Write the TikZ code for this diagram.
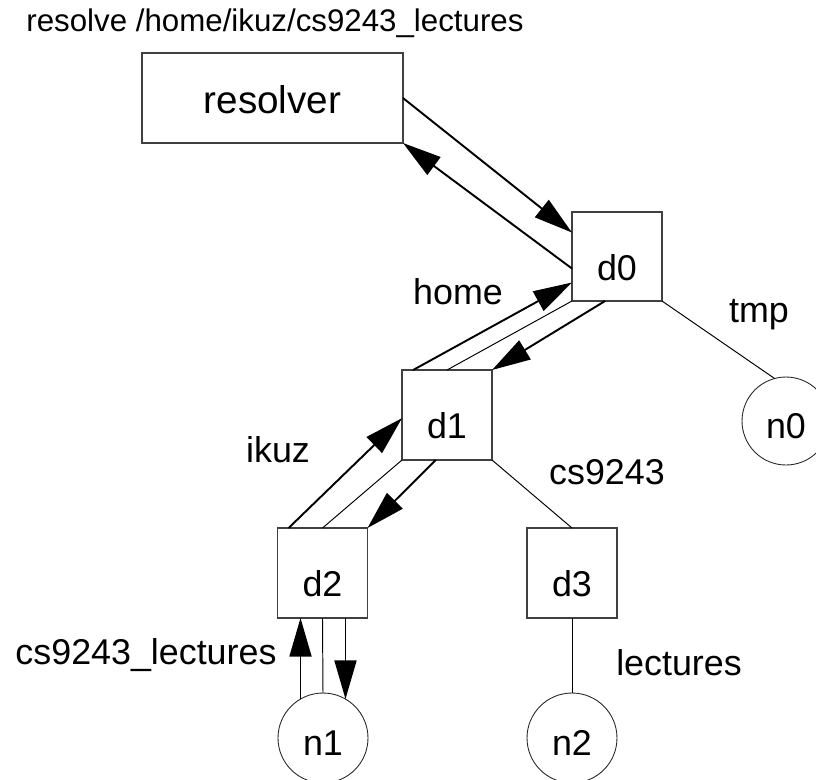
\documentclass[tikz,border=0pt]{standalone}
\usepackage{fontspec}
\setmainfont{Liberation Sans}
\usetikzlibrary{arrows.meta}

\begin{document}
\begin{tikzpicture}[x=0.02cm, y=-0.02cm,
    dir/.style={rectangle, draw=black!75, line width=0.6pt,
        minimum width=1.8cm, minimum height=1.8cm, inner sep=0pt, outer sep=0pt,
        font=\fontsize{20.4}{24}\selectfont, text height=27pt, text depth=0pt},
    leaf/.style={circle, draw=black!85, line width=0.5pt,
        minimum size=1.8cm, inner sep=0pt, outer sep=0pt,
        font=\fontsize{20.4}{24}\selectfont, text height=20pt, text depth=0pt},
    lbl/.style={font=\fontsize{20.4}{24}\selectfont},
    edge/.style={line width=0.55pt, -},
    msg/.style={line width=1.1pt, -{Triangle[length=22pt, width=12.5pt]}}
]
    \useasboundingbox (0,0) rectangle (816,779);
    \node[lbl, font=\fontsize{17.8}{21}\selectfont] (query) at (275,23) {resolve /home/ikuz/cs9243\_lectures};
    \node[dir, minimum width=5.22cm, font=\fontsize{22}{26}\selectfont, text height=18pt] (resolver) at (272.5,98) {resolver};
    \node[dir, minimum height=1.78cm] (d0) at (617,256.5) {d0};
    \node[dir] (d1) at (447,415) {d1};
    \node[dir] (d2) at (322.5,573) {d2};
    \node[dir] (d3) at (572,573) {d3};
    \node[leaf, minimum size=1.76cm] (n0) at (786,421) {n0};
    \node[leaf] (n1) at (323,738) {n1};
    \node[leaf] (n2) at (572,738) {n2};
    % path component names
    \node[lbl] (home) at (458,292) {home};
    \node[lbl] (tmp) at (759,315) {tmp};
    \node[lbl] (ikuz) at (278,450) {ikuz};
    \node[lbl] (cs) at (607,472) {cs9243};
    \node[lbl] (cslect) at (146,655) {cs9243\_lectures};
    \node[lbl] (lect) at (679,663) {lectures};
    % tree
    \draw[edge] (d0.south west) -- (d1.north);
    \draw[edge] (d0.south east) -- (n0.105);
    \draw[edge] (d1.south west) -- (d2.north);
    \draw[edge] (d1.south east) -- (d3.north);
    \draw[edge] (d2.south) -- (n1.north);
    \draw[edge] (d3.south) -- (n2.north);
    % lookup messages
    \draw[msg] (resolver.east) -- (d0.152);
    \draw[msg] (d0.195) -- (resolver.south east);
    \draw[msg] (d1.127) -- (d0.210);
    \draw[msg] (d0.255) -- (d1.north east);
    \draw[msg] (d2.127) -- (d1.184);
    \draw[msg] (d1.256) -- (d2.north east);
    \draw[msg] (n1.120) -- (n1.120 |- d2.south);
    \draw[msg] (d2.south -| n1.60) -- (n1.60);
\end{tikzpicture}
\end{document}
